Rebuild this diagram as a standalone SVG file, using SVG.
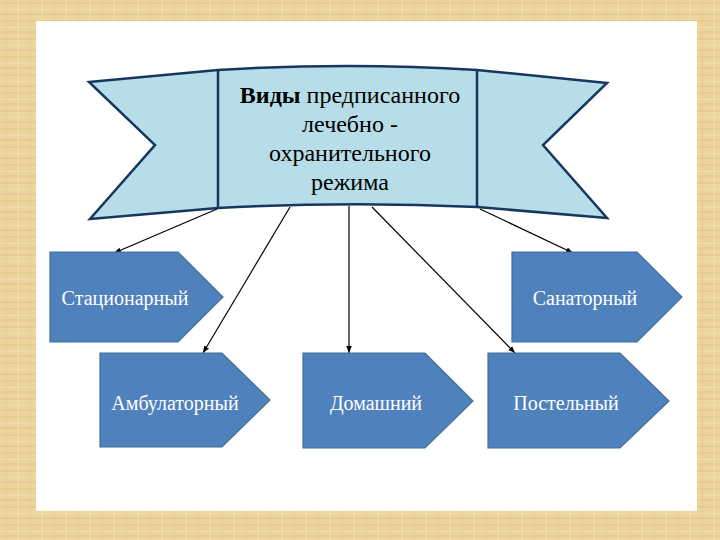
<svg xmlns="http://www.w3.org/2000/svg" width="720" height="540" viewBox="0 0 720 540">
<defs>
<pattern id="wood" width="24" height="18" patternUnits="userSpaceOnUse">
<rect width="24" height="18" fill="#ECD49C"/>
<rect x="0" y="2" width="24" height="2" fill="#E4C78A" opacity="0.6"/>
<rect x="0" y="9" width="24" height="1" fill="#F3E0B2" opacity="0.7"/>
<rect x="0" y="13" width="24" height="2" fill="#E2C285" opacity="0.5"/>
<rect x="6" y="0" width="1" height="18" fill="#E0BF80" opacity="0.4"/>
<rect x="17" y="0" width="2" height="18" fill="#F4E3B8" opacity="0.4"/>
</pattern>
<marker id="arr" viewBox="0 0 10 10" refX="10" refY="5" markerWidth="7" markerHeight="7" orient="auto" markerUnits="userSpaceOnUse">
<path d="M0,1 L10,5 L0,9 Z" fill="#000"/>
</marker>
<style>
.node path{fill:#4F81BD;stroke:#41719C;stroke-width:1.2}
.node text{font-family:"Liberation Serif","Times New Roman",serif;font-size:20px;fill:#FFFFFF;text-anchor:middle}
.ban{fill:#B7DDE8;stroke:#17375E;stroke-width:2.5;stroke-linejoin:miter}
.bt{font-family:"Liberation Serif","Times New Roman",serif;font-size:24px;fill:#000;text-anchor:middle}
#connectors line{stroke:#000;stroke-width:1.2;marker-end:url(#arr)}
</style>
</defs>
<rect width="720" height="540" fill="url(#wood)"/>
<rect x="36" y="21" width="661" height="490" fill="#FFFFFF"/>

<g id="banner">
<path class="ban" d="M89,82 L218,70 Q348,62 477,70 L607,83 L543,145 L607,218 L477,207 Q348,201 218,208 L90,219 L155,145 Z"/>
<line x1="218" y1="70" x2="218" y2="208" stroke="#17375E" stroke-width="2.5"/>
<line x1="477" y1="70" x2="477" y2="207" stroke="#17375E" stroke-width="2.5"/>
<text class="bt" x="350" y="103"><tspan font-weight="bold">Виды</tspan> предписанного</text>
<text class="bt" x="350" y="132">лечебно -</text>
<text class="bt" x="350" y="161">охранительного</text>
<text class="bt" x="350" y="190">режима</text>
</g>

<g id="connectors">
<line x1="217" y1="209" x2="114" y2="253"/>
<line x1="290" y1="207" x2="203" y2="353"/>
<line x1="349" y1="206" x2="349" y2="353"/>
<line x1="372" y1="207" x2="515" y2="353"/>
<line x1="480" y1="209" x2="573" y2="253"/>
</g>

<g id="stacionarny" class="node">
<path d="M50,252 H178 L223,297 L178,342 H50 Z"/>
<text x="125" y="305">Стационарный</text>
</g>
<g id="sanatorny" class="node">
<path d="M512,252 H637 L682,297 L637,342 H512 Z"/>
<text x="585" y="305">Санаторный</text>
</g>
<g id="ambulatorny" class="node">
<path d="M100,353 H222 L270,400 L222,447 H100 Z"/>
<text x="175" y="410">Амбулаторный</text>
</g>
<g id="domashny" class="node">
<path d="M303,353 H425 L473,401 L425,448 H303 Z"/>
<text x="376" y="410">Домашний</text>
</g>
<g id="postelny" class="node">
<path d="M488,353 H620 L669,401 L620,448 H488 Z"/>
<text x="566" y="410">Постельный</text>
</g>
</svg>
